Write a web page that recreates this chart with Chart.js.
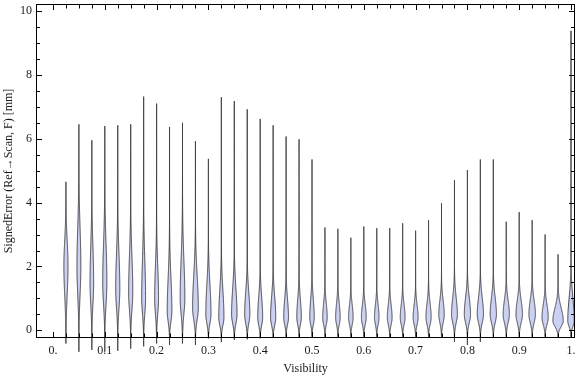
<!DOCTYPE html>
<html>
<head>
<meta charset="utf-8">
<script src="https://cdn.jsdelivr.net/npm/chart.js@4.4.1/dist/chart.umd.min.js"></script>
<style>
  html, body { margin: 0; padding: 0; background: #fff; }
  canvas { display: block; }
</style>
</head>
<body>
<canvas id="chart" width="576" height="377"></canvas>
<script>
// visibility bins (violin centres)
const centers = [0.025, 0.05, 0.075, 0.1, 0.125, 0.15, 0.175, 0.2, 0.225, 0.25,
                 0.275, 0.3, 0.325, 0.35, 0.375, 0.4, 0.425, 0.45, 0.475, 0.5,
                 0.525, 0.55, 0.575, 0.6, 0.625, 0.65, 0.675, 0.7, 0.725, 0.75,
                 0.775, 0.8, 0.825, 0.85, 0.875, 0.9, 0.925, 0.95, 0.975, 1.0];
// top of each violin (max signed error, mm)
const hiVals = [4.65, 6.45, 5.95, 6.4, 6.42, 6.45, 7.32, 7.1, 6.37, 6.5,
                5.92, 5.37, 7.3, 7.18, 6.92, 6.62, 6.42, 6.07, 5.98, 5.35,
                3.22, 3.18, 2.9, 3.25, 3.2, 3.2, 3.35, 3.12, 3.45, 3.98,
                4.7, 5.02, 5.35, 5.35, 3.4, 3.7, 3.45, 3.0, 2.38, 9.38];
// bottom of each violin tail
const loVals = [-0.41, -0.67, -0.61, -0.67, -0.64, -0.57, -0.5, -0.41, -0.46, -0.41,
                -0.46, -0.25, -0.36, -0.3, -0.28, -0.25, -0.22, -0.2, -0.2, -0.2,
                -0.2, -0.2, -0.2, -0.2, -0.2, -0.2, -0.2, -0.2, -0.2, -0.2,
                -0.36, -0.46, -0.36, -0.2, -0.2, -0.2, -0.2, -0.2, -0.2, -0.2];
// where each violin is widest
const modeVals = [2.0, 2.0, 1.5, 1.5, 1.3, 1.2, 1.0, 1.0, 0.6, 1.0,
                  0.7, 0.5, 0.4, 0.5, 0.5, 0.4, 0.4, 0.4, 0.4, 0.4,
                  0.4, 0.4, 0.4, 0.4, 0.4, 0.4, 0.4, 0.4, 0.4, 0.5,
                  0.5, 0.5, 0.5, 0.5, 0.5, 0.5, 0.5, 0.4, 0.3, 0.3];
// where the body fades out below / above
const bodyLowVals = [-0.2, -0.2, -0.2, -0.2, -0.2, -0.2, -0.2, -0.2, -0.2, -0.2,
                     -0.2, -0.2, -0.2, -0.2, -0.2, -0.2, -0.2, -0.15, -0.15, -0.15,
                     -0.15, -0.15, -0.15, -0.15, -0.15, -0.15, -0.15, -0.15, -0.15, -0.15,
                     -0.15, -0.15, -0.15, -0.15, -0.15, -0.15, -0.15, -0.15, -0.15, -0.15];
const bodyHighVals = [4.0, 5.0, 4.3, 4.5, 4.0, 4.0, 4.0, 3.5, 3.2, 4.0,
                      3.2, 2.8, 2.5, 2.5, 2.2, 2.0, 2.0, 1.8, 1.8, 1.8,
                      1.5, 1.5, 1.4, 1.4, 1.4, 1.4, 1.4, 1.4, 1.5, 1.6,
                      1.8, 1.8, 1.8, 1.8, 1.6, 1.6, 1.6, 1.4, 1.3, 2.0];
// relative peak density (1 = touches neighbour)
const densVals = [0.32, 0.3, 0.28, 0.32, 0.32, 0.32, 0.3, 0.3, 0.36, 0.36,
                  0.44, 0.4, 0.4, 0.42, 0.4, 0.38, 0.4, 0.37, 0.35, 0.35,
                  0.35, 0.35, 0.35, 0.37, 0.35, 0.37, 0.37, 0.38, 0.4, 0.42,
                  0.45, 0.48, 0.48, 0.48, 0.48, 0.5, 0.5, 0.48, 0.8, 0.5];

const xTickVals = [0, 0.1, 0.2, 0.3, 0.4, 0.5, 0.6, 0.7, 0.8, 0.9, 1.0];
const xTickLabels = ['0.', '0.1', '0.2', '0.3', '0.4', '0.5', '0.6', '0.7', '0.8', '0.9', '1.'];
const yTickVals = [0, 2, 4, 6, 8, 10];
const yTickLabels = ['0', '2', '4', '6', '8', '10'];

const HALF = 0.0125;
const FILL = '#cbd1f3';
const EDGE = 'rgba(45,45,45,0.85)';

const violinPlugin = {
  id: 'violins',
  afterDatasetsDraw(chart) {
    const { ctx, scales: { x, y } } = chart;
    ctx.save();
    centers.forEach((c, i) => {
      const m = modeVals[i];
      const sLo = (m - bodyLowVals[i]) / 2.5;
      const sHi = (bodyHighVals[i] - m) / 2.5;
      const pts = [];
      const steps = 300;
      for (let k = 0; k <= steps; k++) {
        const v = loVals[i] + (hiVals[i] - loVals[i]) * k / steps;
        const s = v < m ? sLo : sHi;
        const w = densVals[i] * HALF * Math.exp(-0.5 * ((v - m) / s) ** 2);
        pts.push([v, w]);
      }
      ctx.beginPath();
      pts.forEach(([v, w], k) => {
        const px = x.getPixelForValue(c - w), py = y.getPixelForValue(v);
        if (k === 0) ctx.moveTo(px, py); else ctx.lineTo(px, py);
      });
      for (let k = pts.length - 1; k >= 0; k--) {
        const [v, w] = pts[k];
        ctx.lineTo(x.getPixelForValue(c + w), y.getPixelForValue(v));
      }
      ctx.closePath();
      ctx.fillStyle = FILL;
      ctx.fill();
      ctx.strokeStyle = EDGE;
      ctx.lineWidth = 1;
      ctx.stroke();
    });
    ctx.restore();
  }
};

// mathematica style frame, ticks pointing inwards on all four sides
const framePlugin = {
  id: 'frame',
  afterDraw(chart) {
    const { ctx, chartArea: a, scales: { x, y } } = chart;
    ctx.save();
    ctx.strokeStyle = '#000';
    ctx.lineWidth = 1;
    ctx.strokeRect(a.left + 0.5, a.top + 0.5, a.right - a.left - 1, a.bottom - a.top - 1);
    ctx.beginPath();
    for (let k = 0; k <= 40; k++) {
      const px = Math.round(x.getPixelForValue(k / 40)) + 0.5;
      const len = k % 4 === 0 ? 5 : 3.5;
      ctx.moveTo(px, a.bottom - 1); ctx.lineTo(px, a.bottom - 1 - len);
      ctx.moveTo(px, a.top + 1); ctx.lineTo(px, a.top + 1 + len);
    }
    for (let k = 0; k <= 20; k++) {
      const py = Math.round(y.getPixelForValue(k / 2)) + 0.5;
      const len = k % 4 === 0 ? 5 : 3;
      ctx.moveTo(a.left + 1, py); ctx.lineTo(a.left + 1 + len, py);
      ctx.moveTo(a.right - 1, py); ctx.lineTo(a.right - 1 - len, py);
    }
    ctx.stroke();
    ctx.restore();
  }
};

const font = { family: '"Liberation Serif", "Times New Roman", serif', size: 12 };

new Chart(document.getElementById('chart'), {
  type: 'scatter',
  data: {
    datasets: [{
      data: centers.map((c, i) => ({ x: c, y: hiVals[i] })),
      pointRadius: 0,
      showLine: false
    }]
  },
  options: {
    responsive: false,
    animation: false,
    devicePixelRatio: 1,
    layout: { padding: { top: 4, right: 1, left: 0, bottom: 0 } },
    plugins: { legend: { display: false }, tooltip: { enabled: false } },
    scales: {
      x: {
        type: 'linear',
        min: -0.0328,
        max: 1.0077,
        afterBuildTicks: s => { s.ticks = xTickVals.map(v => ({ value: v })); },
        afterFit: s => { s.height = 39; s.paddingLeft = 0; s.paddingRight = 0; },
        grid: { display: false, drawTicks: false },
        border: { display: false },
        ticks: {
          font: font,
          color: '#1a1a1a',
          padding: 6,
          maxRotation: 0,
          callback: (v) => xTickLabels[xTickVals.indexOf(v)]
        },
        title: {
          display: true,
          text: 'Visibility',
          font: font,
          color: '#1a1a1a',
          padding: { top: 0, bottom: 1 }
        }
      },
      y: {
        type: 'linear',
        min: -0.24,
        max: 10.22,
        afterBuildTicks: s => { s.ticks = yTickVals.map(v => ({ value: v })); },
        afterFit: s => { s.width = 36; s.paddingTop = 0; s.paddingBottom = 0; },
        grid: { display: false, drawTicks: false },
        border: { display: false },
        ticks: {
          font: font,
          color: '#1a1a1a',
          padding: 4,
          callback: (v) => yTickLabels[yTickVals.indexOf(v)]
        },
        title: {
          display: true,
          text: 'SignedError (Ref\u2192Scan, F) [mm]',
          font: font,
          color: '#1a1a1a',
          padding: { top: 2, bottom: 0 }
        }
      }
    }
  },
  plugins: [violinPlugin, framePlugin]
});
</script>
</body>
</html>
